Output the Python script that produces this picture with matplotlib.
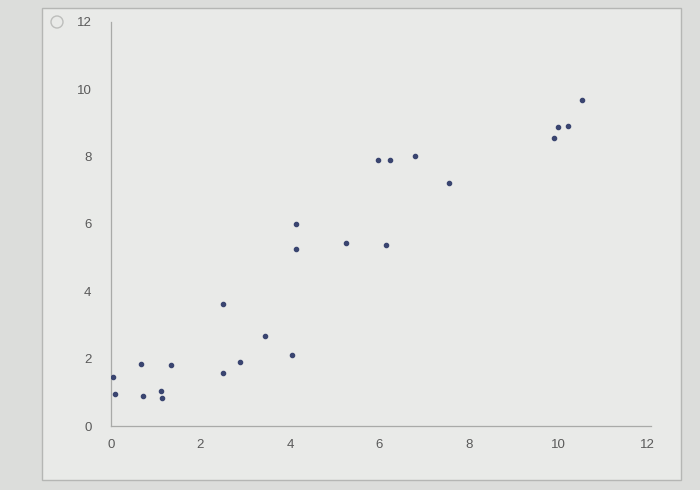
import matplotlib
matplotlib.use("Agg")
import matplotlib.pyplot as plt
from matplotlib.patches import Rectangle, Circle

x_vals = [0.05, 0.09, 0.68, 0.72, 1.11, 1.14, 1.35, 2.50, 2.50, 2.89, 3.45, 4.04,
          4.14, 4.14, 5.26, 6.15, 5.96, 6.23, 6.79, 7.55, 10.52, 10.00, 10.21, 9.91]
y_vals = [1.47, 0.96, 1.85, 0.88, 1.05, 0.84, 1.82, 1.56, 3.61, 1.91, 2.67, 2.12,
          6.00, 5.27, 5.45, 5.38, 7.90, 7.90, 8.01, 7.22, 9.68, 8.88, 8.90, 8.56]
x_ticks = [0, 2, 4, 6, 8, 10, 12]
y_ticks = [0, 2, 4, 6, 8, 10, 12]

plt.rcParams['font.family'] = ['Liberation Sans', 'DejaVu Sans']

fig = plt.figure(figsize=(7, 4.9), dpi=100, facecolor='#dcdddb')

# background layer in pixel coordinates
bg = fig.add_axes([0, 0, 1, 1], zorder=-1)
bg.set_xlim(0, 700)
bg.set_ylim(490, 0)
bg.axis('off')
bg.add_patch(Rectangle((42, 8), 639, 472, facecolor='#e9eae8',
                       edgecolor='#b5b6b4', linewidth=1.0))
bg.add_patch(Circle((57, 22), 6, facecolor='none', edgecolor='#bdbebc', linewidth=1.0))

ax = fig.add_axes([111/700, 1-426/490, (651-111)/700, (426-22)/490], zorder=1)
ax.set_facecolor('none')
ax.scatter(x_vals, y_vals, s=9, color='#3a4570', zorder=3)

ax.set_xlim(0, 12.07)
ax.set_ylim(0, 12)
ax.set_xticks(x_ticks)
ax.set_yticks(y_ticks)
ax.tick_params(length=0, labelsize=9.5, colors='#5a5a5a')
ax.tick_params(axis='x', pad=9)
ax.tick_params(axis='y', pad=14)
for s in ['top', 'right']:
    ax.spines[s].set_visible(False)
for s in ['left', 'bottom']:
    ax.spines[s].set_color('#a9aaa8')
    ax.spines[s].set_linewidth(0.9)

fig.savefig('out.png', dpi=100, facecolor=fig.get_facecolor())
